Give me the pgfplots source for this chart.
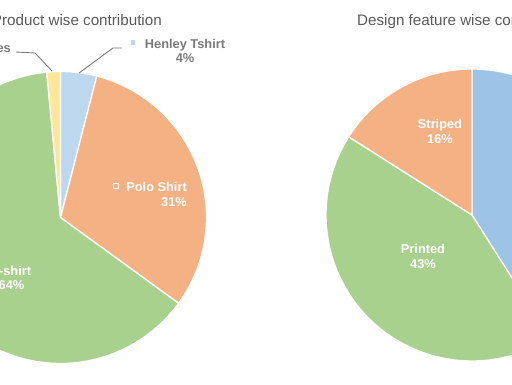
\documentclass[border=0pt]{standalone}
\usepackage{pgfplots}
\pgfplotsset{compat=1.18}
\usepackage{fontspec}
\setmainfont{Liberation Sans}
\definecolor{cblueL}{HTML}{BDD7EE}
\definecolor{cblueR}{HTML}{9DC3E6}
\definecolor{corange}{HTML}{F4B183}
\definecolor{cgreen}{HTML}{A9D18E}
\definecolor{cyellow}{HTML}{FFE699}
\definecolor{ctitle}{HTML}{5A5A5A}
\definecolor{clabel}{HTML}{7A7A7A}
% slice: start %, end %, colour (clockwise from 12 o'clock)
\newcommand{\slice}[3]{%
  \addplot[fill=#3, draw=white, line width=1.3pt, domain=#1:#2, samples=80, variable=\p, line join=round]
    ({sin(3.6*\p)}, {cos(3.6*\p)}) -- (axis cs:0,0) -- cycle;}
\pgfplotsset{pieaxis/.style={anchor=origin, x=146pt, y=146pt, hide axis,
  xmin=-1.05, xmax=1.05, ymin=-1.05, ymax=1.05, clip=false}}
\begin{document}
\begin{tikzpicture}[x=1pt,y=1pt]
\useasboundingbox (0,0) rectangle (512,384);
\clip (0,0) rectangle (512,384);
% Product wise contribution: Henley 4, Polo 31, T-shirt 63.5, Accessories 1.5
\begin{axis}[pieaxis, at={(60.5pt,166.5pt)}]
\slice{0}{4}{cblueL}
\slice{4}{35}{corange}
\slice{35}{98.5}{cgreen}
\slice{98.5}{100}{cyellow}
\end{axis}
% Design feature wise contribution: Solid 41, Printed 43, Striped 16
\begin{axis}[pieaxis, at={(472pt,169pt)}]
\slice{0}{41}{cblueR}
\slice{41}{84}{cgreen}
\slice{84}{100}{corange}
\end{axis}
% titles
\node[anchor=base east, text=ctitle, font=\fontsize{15.2}{18}\selectfont, inner sep=0] at (162,359) {Product wise contribution};
\node[anchor=base west, text=ctitle, font=\fontsize{15.2}{18}\selectfont, inner sep=0] at (357,358) {Design feature wise contribution};
% outside labels
\draw[clabel, line width=0.9pt] (122,336) -- (113,336) -- (79,311);
\fill[cblueL] (130.7,339.2) rectangle (135.3,343.8);
\node[anchor=base, text=clabel, font=\fontsize{12.8}{15}\selectfont\bfseries, inner sep=0] at (185,335) {Henley Tshirt};
\node[anchor=base, text=clabel, font=\fontsize{12.8}{15}\selectfont\bfseries, inner sep=0] at (185,321.5) {4\%};
\draw[clabel, line width=0.9pt] (16,332) -- (35,331) -- (52,313);
\node[anchor=base east, text=clabel, font=\fontsize{12.8}{15}\selectfont\bfseries, inner sep=0] at (11,331) {Accessories};
\node[anchor=base, text=clabel, font=\fontsize{12.8}{15}\selectfont\bfseries, inner sep=0] at (-30,317) {1\%};
% inside labels
\draw[white, line width=0.8pt] (113.5,196) rectangle (118.5,201);
\node[anchor=base east, text=white, font=\fontsize{12.8}{15}\selectfont\bfseries, inner sep=0] at (187,192.3) {Polo Shirt};
\node[anchor=base east, text=white, font=\fontsize{12.8}{15}\selectfont\bfseries, inner sep=0] at (187,178) {31\%};
\node[anchor=base, text=white, font=\fontsize{12.8}{15}\selectfont\bfseries, inner sep=0] at (11.5,109) {T-shirt};
\node[anchor=base, text=white, font=\fontsize{12.8}{15}\selectfont\bfseries, inner sep=0] at (11.5,95) {64\%};
\node[anchor=base, text=white, font=\fontsize{12.8}{15}\selectfont\bfseries, inner sep=0] at (440,256) {Striped};
\node[anchor=base, text=white, font=\fontsize{12.8}{15}\selectfont\bfseries, inner sep=0] at (440,241) {16\%};
\node[anchor=base, text=white, font=\fontsize{12.8}{15}\selectfont\bfseries, inner sep=0] at (423,131) {Printed};
\node[anchor=base, text=white, font=\fontsize{12.8}{15}\selectfont\bfseries, inner sep=0] at (423,116) {43\%};
\node[anchor=base, text=white, font=\fontsize{12.8}{15}\selectfont\bfseries, inner sep=0] at (550,180) {Solid};
\end{tikzpicture}
\end{document}
